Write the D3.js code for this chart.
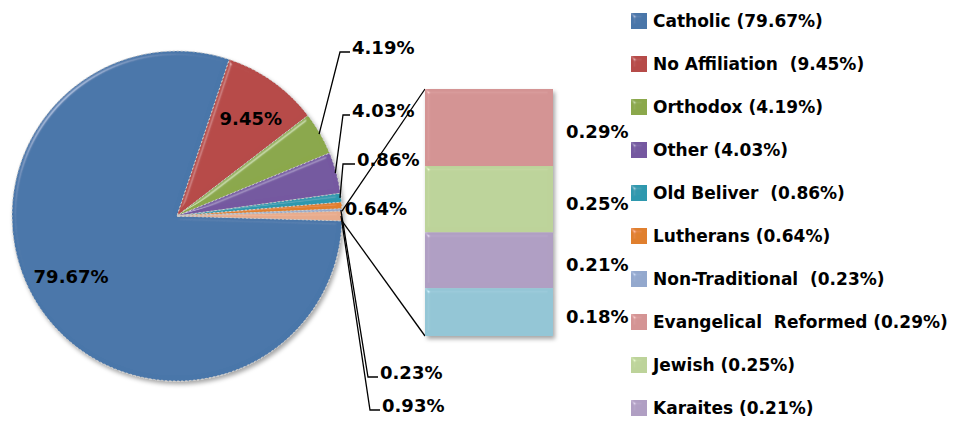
<!DOCTYPE html>
<html>
<head>
<meta charset="utf-8">
<script src="https://cdn.jsdelivr.net/npm/d3@7"></script>
<style>
body { margin: 0; background: #fff; }
text { font-family: "DejaVu Sans", sans-serif; font-weight: bold; fill: #000; white-space: pre; }
</style>
</head>
<body>
<script>
// pie data (last slice = group shown in the bar)
var pieNames = ["Catholic", "No Affiliation", "Orthodox", "Other", "Old Beliver", "Lutherans", "Non-Traditional", "Other group"];
var pieValues = [79.67, 9.45, 4.19, 4.03, 0.86, 0.64, 0.23, 0.93];
var pieColors = ["#4a76a9", "#b64b48", "#8ba84c", "#7459a0", "#2f98ae", "#e07f2d", "#93a8cd", "#e7ab8c"];

// bar of pie data (top to bottom)
var barNames = ["Evangelical Reformed", "Jewish", "Karaites", "Rest"];
var barValues = [0.29, 0.25, 0.21, 0.18];
var barColors = ["#d49494", "#bdd39a", "#b09fc3", "#94c6d6"];

// legend
var legendLabels = ["Catholic (79.67%)", "No Affiliation  (9.45%)", "Orthodox (4.19%)", "Other (4.03%)",
  "Old Beliver  (0.86%)", "Lutherans (0.64%)", "Non-Traditional  (0.23%)",
  "Evangelical  Reformed (0.29%)", "Jewish (0.25%)", "Karaites (0.21%)"];
var legendColors = ["#4a76a9", "#b64b48", "#8ba84c", "#7459a0", "#2f98ae", "#e07f2d", "#93a8cd", "#d49494", "#bdd39a", "#b09fc3"];

var width = 956, height = 423;
var cx = 177, cy = 216, r = 165;

var svg = d3.select("body").append("svg")
  .attr("width", width)
  .attr("height", height);

// bevel filter: highlight only on edges facing the light
var defs = svg.append("defs");
var bev = defs.append("filter").attr("id", "bevel").attr("x", "-10%").attr("y", "-10%").attr("width", "120%").attr("height", "120%");
bev.append("feGaussianBlur").attr("in", "SourceAlpha").attr("stdDeviation", 2).attr("result", "blur");
var spec = bev.append("feSpecularLighting").attr("in", "blur").attr("surfaceScale", 4)
  .attr("specularConstant", 0.6).attr("specularExponent", 30).attr("lighting-color", "#fff").attr("result", "spec");
spec.append("feDistantLight").attr("azimuth", 225).attr("elevation", 25);
bev.append("feComposite").attr("in", "spec").attr("in2", "SourceAlpha").attr("operator", "in").attr("result", "specOut");
bev.append("feComposite").attr("in", "SourceGraphic").attr("in2", "specOut").attr("operator", "arithmetic")
  .attr("k1", 0).attr("k2", 1).attr("k3", 0.5).attr("k4", 0);

var shadow = defs.append("filter").attr("id", "shadow").attr("x", "-10%").attr("y", "-10%").attr("width", "130%").attr("height", "130%");
shadow.append("feDropShadow").attr("dx", 2).attr("dy", 3).attr("stdDeviation", 2).attr("flood-color", "#000").attr("flood-opacity", 0.35);

// pie: grouped slice centred on 3 o'clock
var total = d3.sum(pieValues);
var half = Math.PI * pieValues[pieValues.length - 1] / total;
var start = Math.PI / 2 + half;
var pie = d3.pie().sort(null).value(function(d) { return d; })
  .startAngle(start).endAngle(start + 2 * Math.PI);
var arcs = pie(pieValues);
var arc = d3.arc().innerRadius(0).outerRadius(r);

var pieG = svg.append("g").attr("transform", "translate(" + cx + "," + cy + ")");
pieG.append("g").attr("filter", "url(#shadow)")
  .selectAll("path")
  .data(arcs)
  .enter().append("path")
  .attr("d", arc)
  .attr("fill", function(d, i) { return pieColors[i]; })
  .attr("stroke", "#c8c8c8")
  .attr("stroke-width", 1)
  .attr("stroke-dasharray", "2,2")
  .attr("filter", "url(#bevel)");

function pt(angle, rad) {
  return [cx + rad * Math.sin(angle), cy - rad * Math.cos(angle)];
}
function mid(d) { return (d.startAngle + d.endAngle) / 2; }

// inside labels
[[0, 0.09, 122], [1, 0.03, 122]].forEach(function(c) {
  var i = c[0];
  var p = pt(mid(arcs[i]) + c[1], c[2]);
  svg.append("text")
    .attr("x", p[0]).attr("y", p[1])
    .attr("text-anchor", "middle")
    .attr("dominant-baseline", "central")
    .attr("font-size", 18)
    .text(pieValues[i].toFixed(2) + "%");
});

// outside labels with leader lines: [index, elbow x, elbow y, end x]
var leaders = [
  [2, 340, 52, 350],
  [3, 343, 115, 350],
  [4, 343, 164, 355],
  [6, 368, 377, 378],
  [7, 370, 410, 380]
];
var lineG = svg.append("g").attr("fill", "none").attr("stroke", "#000").attr("stroke-width", 1.3);
leaders.forEach(function(l) {
  var d = arcs[l[0]];
  var p = pt(mid(d), r - 1);
  lineG.append("path").attr("d", d3.line()([p, [l[1], l[2]], [l[3], l[2]]]));
  svg.append("text")
    .attr("x", l[3] + 2).attr("y", l[2] - 5)
    .attr("dominant-baseline", "central")
    .attr("font-size", 18)
    .text(pieValues[l[0]].toFixed(2) + "%");
});
// 0.64% sits just beside the slice
var pL = pt(mid(arcs[5]), r);
svg.append("text")
  .attr("x", pL[0] + 3).attr("y", pL[1] + 3)
  .attr("dominant-baseline", "central")
  .attr("font-size", 18)
  .text(pieValues[5].toFixed(2) + "%");

// bar of pie
var barX = 425, barW = 128;
var yScale = d3.scaleLinear().domain([0, d3.sum(barValues)]).range([89, 336]);
var cum = [0];
barValues.forEach(function(v, i) { cum.push(cum[i] + v); });

var grp = arcs[arcs.length - 1];
var pTop = pt(grp.startAngle, r), pBot = pt(grp.endAngle, r);
lineG.append("line").attr("x1", pTop[0]).attr("y1", pTop[1]).attr("x2", barX).attr("y2", yScale(0));
lineG.append("line").attr("x1", pBot[0]).attr("y1", pBot[1]).attr("x2", barX).attr("y2", yScale(cum[cum.length - 1]));

svg.append("g").attr("filter", "url(#shadow)")
  .selectAll("rect")
  .data(barValues)
  .enter().append("rect")
  .attr("x", barX)
  .attr("y", function(d, i) { return yScale(cum[i]); })
  .attr("width", barW)
  .attr("height", function(d, i) { return yScale(cum[i + 1]) - yScale(cum[i]); })
  .attr("fill", function(d, i) { return barColors[i]; })
  .attr("filter", "url(#bevel)");

svg.selectAll(".barlab")
  .data(barValues)
  .enter().append("text")
  .attr("class", "barlab")
  .attr("x", 566)
  .attr("y", function(d, i) { return (yScale(cum[i]) + yScale(cum[i + 1])) / 2 + 4; })
  .attr("dominant-baseline", "central")
  .attr("font-size", 18)
  .text(function(d) { return d.toFixed(2) + "%"; });

// legend
var ly = d3.scalePoint().domain(legendLabels).range([21, 408]);
var leg = svg.append("g");
leg.selectAll("rect")
  .data(legendLabels)
  .enter().append("rect")
  .attr("x", 631)
  .attr("y", function(d) { return ly(d) - 8; })
  .attr("width", 16).attr("height", 16)
  .attr("fill", function(d, i) { return legendColors[i]; })
  .attr("filter", "url(#bevel)");
leg.selectAll("text")
  .data(legendLabels)
  .enter().append("text")
  .attr("x", 653)
  .attr("y", function(d) { return ly(d); })
  .attr("dominant-baseline", "central")
  .attr("font-size", 17)
  .text(function(d) { return d; });
</script>
</body>
</html>
